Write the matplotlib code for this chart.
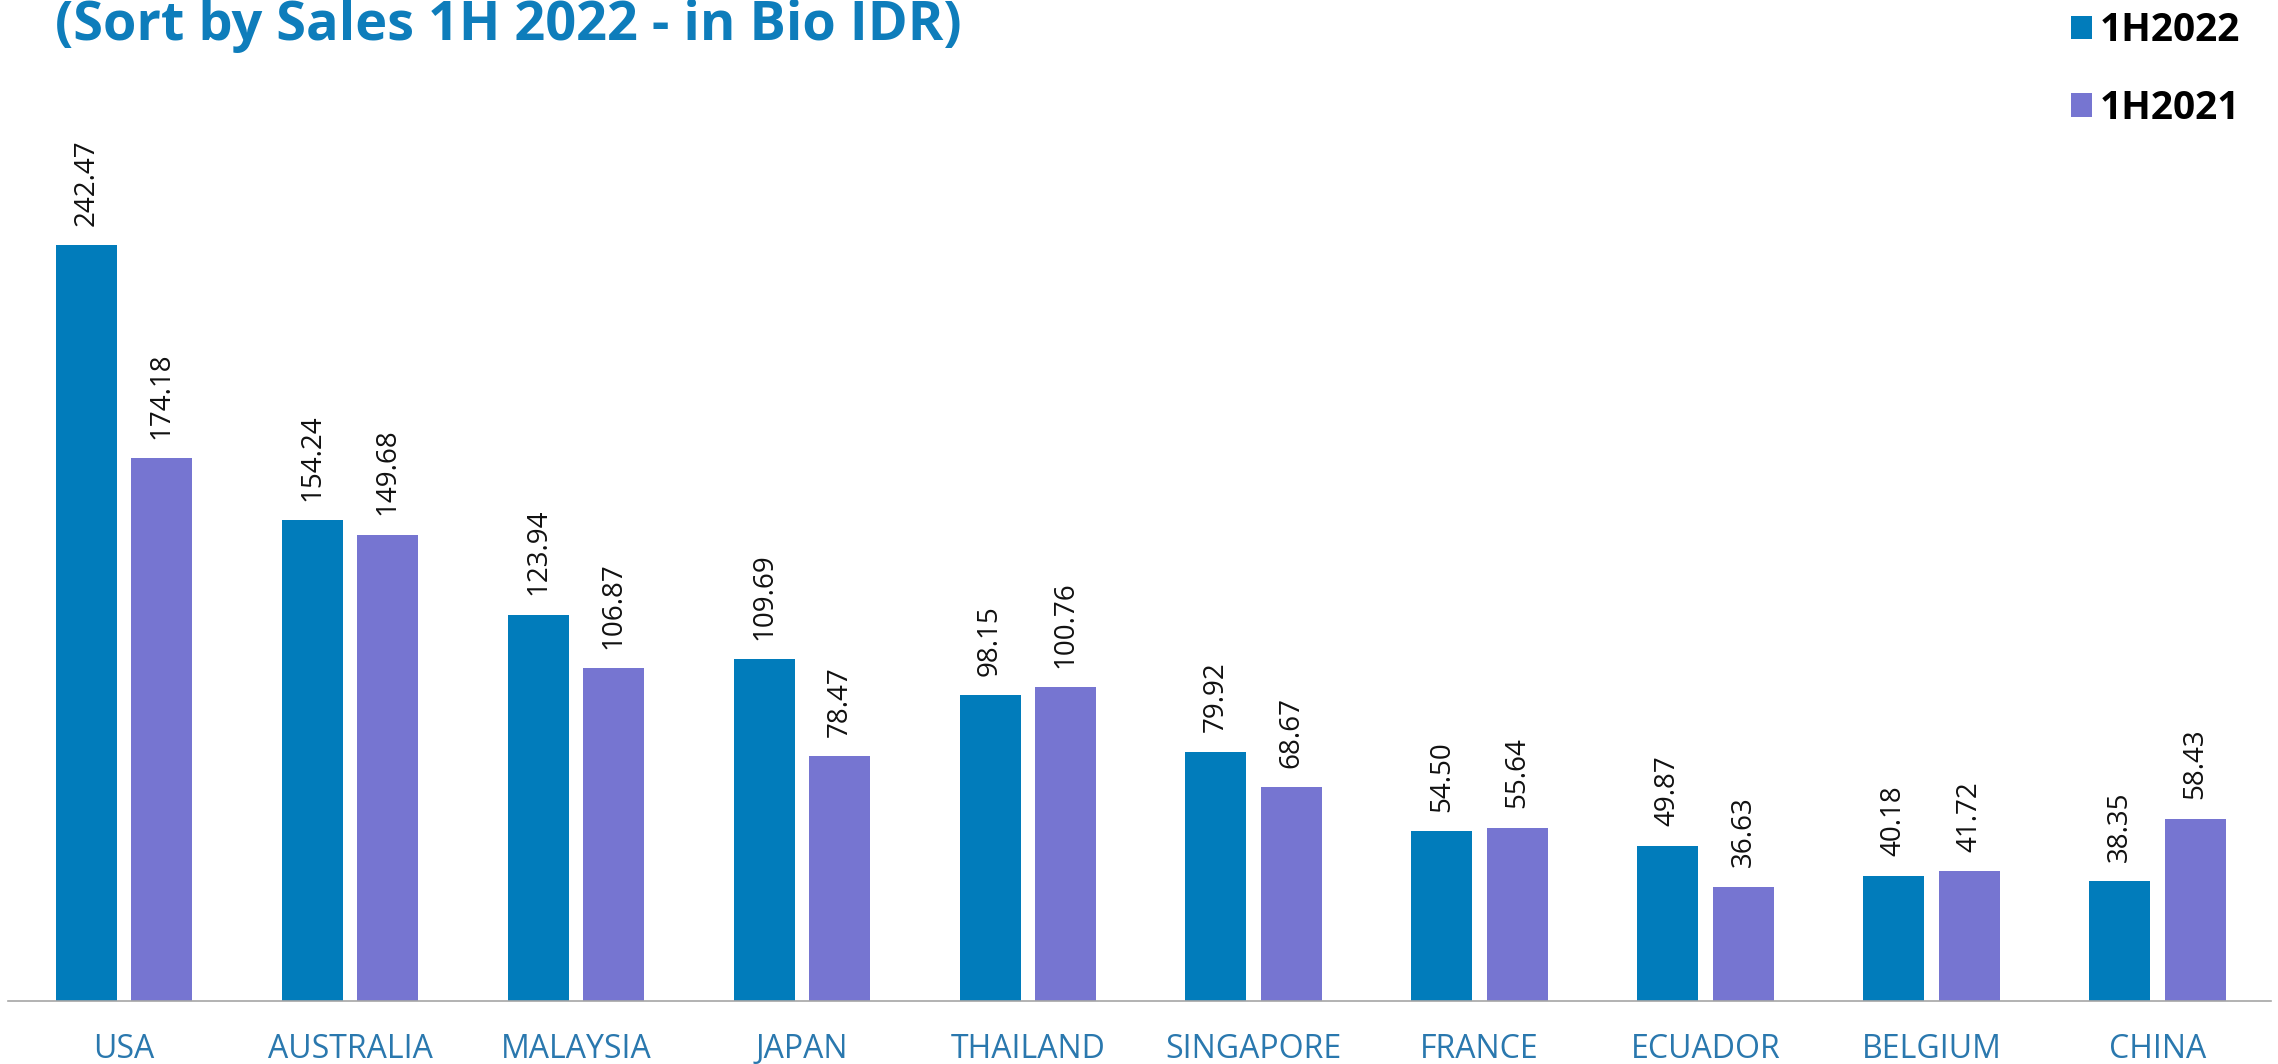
import matplotlib
matplotlib.use("Agg")
import matplotlib.pyplot as plt
import numpy as np

categories = ["USA", "AUSTRALIA", "MALAYSIA", "JAPAN", "THAILAND", "SINGAPORE",
              "FRANCE", "ECUADOR", "BELGIUM", "CHINA"]
sales_1h2022 = [242.47, 154.24, 123.94, 109.69, 98.15, 79.92, 54.50, 49.87, 40.18, 38.35]
sales_1h2021 = [174.18, 149.68, 106.87, 78.47, 100.76, 68.67, 55.64, 36.63, 41.72, 58.43]
series_names = ["1H2022", "1H2021"]
title_text = "(Sort by Sales 1H 2022 - in Bio IDR)"

C_2022 = "#017CBB"
C_2021 = "#7675D1"
C_TITLE = "#0E7DBB"
C_TICK = "#2A78AE"

plt.rcParams['font.family'] = ['Open Sans', 'DejaVu Sans']

W, H = 2278, 1064
fig = plt.figure(figsize=(W / 100, H / 100), dpi=100)
ax = fig.add_axes([8 / W, 63 / H, (2271 - 8) / W, 1001 / H])

x = np.arange(len(categories))
bw = 0.27
off = 0.1673
b1 = ax.bar(x - off, sales_1h2022, bw, color=C_2022, label=series_names[0])
b2 = ax.bar(x + off, sales_1h2021, bw, color=C_2021, label=series_names[1])

for bars, vals in ((b1, sales_1h2022), (b2, sales_1h2021)):
    for rect, v in zip(bars, vals):
        ax.annotate(f"{v:.2f}", (rect.get_x() + rect.get_width() / 2, rect.get_height()),
                    xytext=(0, 14), textcoords="offset points", rotation=90,
                    ha="center", va="bottom", fontsize=20, color="#111111")

ax.set_xlim(-0.5135, 9.502)
ax.set_ylim(0, 321.2)
ax.set_xticks(x)
ax.set_xticklabels(categories, fontsize=23, color=C_TICK)
ax.tick_params(axis="x", length=0, pad=23)
ax.set_yticks([])
for s in ("top", "left", "right"):
    ax.spines[s].set_visible(False)
ax.spines["bottom"].set_color("#A6A6A6")
ax.spines["bottom"].set_linewidth(1.2)

fig.text(55 / W, 1 - 40 / H, title_text, fontsize=39, fontweight="bold",
         color=C_TITLE, ha="left", va="baseline")

leg = fig.legend(handles=[b1, b2], labels=series_names, loc="upper left",
                 bbox_to_anchor=(2036 / W, 1 + 24 / H), frameon=False,
                 prop={"weight": "bold", "size": 28}, handlelength=0.55,
                 handleheight=0.55, handletextpad=0.2, labelspacing=1.0)

fig.savefig("out.png", dpi=100)
